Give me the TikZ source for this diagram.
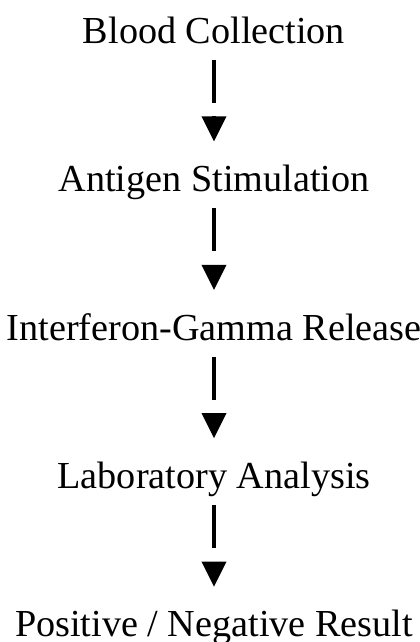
\documentclass[tikz,border=0pt]{standalone}
\usepackage{fontspec}
\setmainfont{Liberation Serif}
\usetikzlibrary{arrows.meta}

\tikzset{
  stage/.style={inner sep=0pt, text height=14pt, text depth=4pt, font=\fontsize{19.1pt}{23pt}\selectfont},
  flow/.style={line width=1.5pt, shorten <=4pt, shorten >=30.2pt,
    postaction={draw, shorten <=32.75pt, shorten >=10.95pt,
      -{Triangle[length=12.5pt, width=12.5pt, line width=0pt]}}}
}

\begin{document}
\begin{tikzpicture}[node distance=74.2pt]
        \useasboundingbox (-107pt,16.65pt) rectangle (102.5pt,-304.35pt);
        % Nodes
        \node[stage] (blood) {Blood Collection};
        \node[stage, below of=blood] (antigen) {Antigen Stimulation};
        \node[stage, below of=antigen] (ifng) {Interferon-Gamma Release};
        \node[stage, below of=ifng] (lab) {Laboratory Analysis};
        \node[stage, below of=lab] (result) {Positive / Negative Result};

        % Arrows
        \draw[flow] (blood) -- (antigen);
        \draw[flow] (antigen) -- (ifng);
        \draw[flow] (ifng) -- (lab);
        \draw[flow] (lab) -- (result);
    \end{tikzpicture}
\end{document}
